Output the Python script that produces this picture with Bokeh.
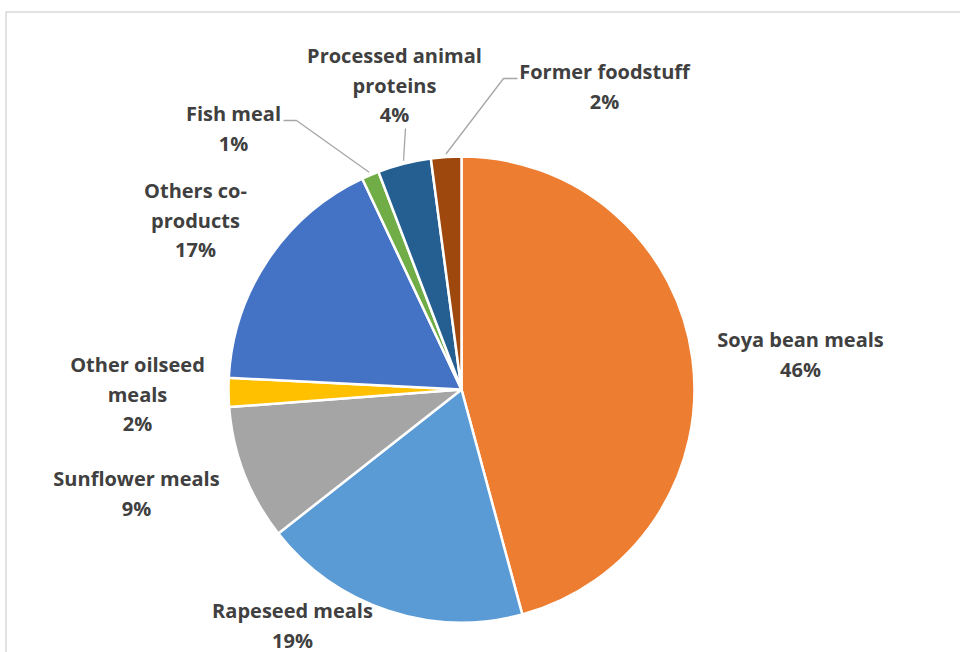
import math
from bokeh.plotting import figure
from bokeh.models import Range1d, ColumnDataSource
from bokeh.core.properties import value
from bokeh.embed import file_html
from bokeh.resources import INLINE

# ---- data ----
categories = ["Soya bean meals", "Rapeseed meals", "Sunflower meals", "Other oilseed\nmeals",
              "Others co-\nproducts", "Fish meal", "Processed animal\nproteins", "Former foodstuff"]
shares = [45.8, 18.6, 9.4, 2.0, 17.2, 1.2, 3.7, 2.1]
colors = ["#ED7D31", "#5B9BD5", "#A5A5A5", "#FFC000", "#4472C4", "#70AD47", "#255E91", "#9E480E"]

# ---- layout (page pixel coordinates) ----
W, H = 960, 652
def fx(px): return px
def fy(py): return H - py

cx, cy, R = fx(461), fy(389), 233
label_pos = [(800, 339), (292, 610), (136, 478), (137, 364), (195, 190), (233, 113), (394, 55), (604, 71)]
leader_start = {5: [(283, 120), (296, 120)], 6: [(405, 128)], 7: [(517, 78), (503, 78)]}
LINE = 29.5

p = figure(width=W, height=H, output_backend="svg", toolbar_location=None,
           x_range=Range1d(0, W), y_range=Range1d(0, H), min_border=0)
p.axis.visible = False
p.grid.visible = False
p.outline_line_color = None
p.background_fill_color = "white"
p.border_fill_color = "white"

# border of chart area
p.line([fx(5.5), fx(5.5), W], [0, fy(11.5), fy(11.5)], line_color="#D9D9D9", line_width=1.5)

total = sum(shares)
starts, ends, mids = [], [], []
cum = 0.0
for s in shares:
    a0 = cum / total * 360.0
    cum += s
    a1 = cum / total * 360.0
    # clockwise from top -> math angles
    starts.append(math.radians(90 - a1))
    ends.append(math.radians(90 - a0))
    mids.append((a0 + a1) / 2)

src = ColumnDataSource(dict(x=[cx] * len(shares), y=[cy] * len(shares),
                            start=starts, end=ends, color=colors))
p.wedge(x="x", y="y", radius=R, start_angle="start", end_angle="end", direction="anticlock",
        fill_color="color", line_color="white", line_width=2.5, source=src)

# leader lines
for i, pts in leader_start.items():
    m = math.radians(mids[i])
    ex = cx + (R + 3) * math.sin(m)
    ey = cy + (R + 3) * math.cos(m)
    xs = [fx(a) for a, b in pts] + [ex]
    ys = [fy(b) for a, b in pts] + [ey]
    p.line(xs, ys, line_color="#A6A6A6", line_width=1.3)

# labels
tx, ty, tt = [], [], []
for i, (cat, s) in enumerate(zip(categories, shares)):
    lines = cat.split("\n") + [f"{round(s / total * 100)}%"]
    x0, y0 = label_pos[i]
    for k, ln in enumerate(lines):
        tx.append(fx(x0))
        ty.append(fy(y0 + k * LINE))
        tt.append(ln)
p.text(x=tx, y=ty, text=tt, text_font=value("Open Sans"), text_font_style="bold",
       text_font_size="20px", text_color="#404040", text_align="center", text_baseline="middle")

open("out.html", "w").write(file_html(p, INLINE))
